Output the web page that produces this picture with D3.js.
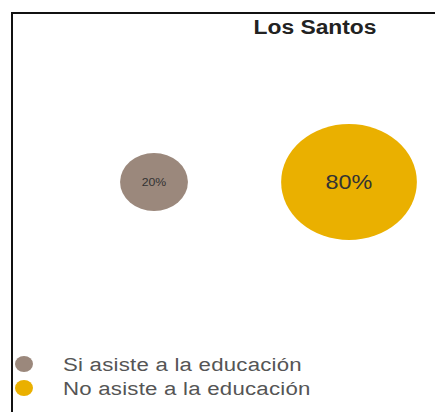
<!DOCTYPE html>
<html>
<head>
  <meta charset="utf-8">
  <title>Los Santos</title>
  <script src="https://d3js.org/d3.v7.min.js"></script>
  <style>
    body { margin: 0; background: #fff; font-family: "Liberation Sans", Arial, sans-serif; }
    .title { font-size: 19.5px; font-weight: bold; fill: #222; text-anchor: middle; }
    .bubble-label { fill: #333; text-anchor: middle; dominant-baseline: central; }
    .legend-text { font-size: 19px; letter-spacing: 0.2px; fill: #555; }
  </style>
</head>
<body>
  <div id="chart"></div>
  <script>
    const categories = ["Si asiste a la educación", "No asiste a la educación"];
    const values = [20, 80];
    const colors = ["#9b887c", "#eab000"];
    const title = "Los Santos";

    const width = 435, height = 412;
    const stretch = 1.17;  // the whole chart is a bit wider than tall

    const svg = d3.select("#chart")
      .append("svg")
        .attr("width", width)
        .attr("height", height);

    // frame (left + top only)
    svg.append("path")
      .attr("d", `M12,${height} L12,13 L${width},13`)
      .attr("fill", "none")
      .attr("stroke", "#111")
      .attr("stroke-width", 2);

    svg.append("text")
      .attr("class", "title")
      .attr("transform", `translate(315,34) scale(${stretch},1)`)
      .text(title);

    // scales
    const x = d3.scalePoint()
      .domain(categories)
      .range([154, 349]);

    const r = d3.scaleSqrt()
      .domain([0, 80])
      .range([0, 58]);

    const color = d3.scaleOrdinal()
      .domain(categories)
      .range(colors);

    const cy = 182;

    const data = categories.map((c, i) => ({cat: c, val: values[i]}));

    svg.selectAll(".bubble")
      .data(data)
      .enter()
      .append("ellipse")
        .attr("class", "bubble")
        .attr("cx", d => x(d.cat))
        .attr("cy", cy)
        .attr("rx", d => r(d.val) * stretch)
        .attr("ry", d => r(d.val))
        .attr("fill", d => color(d.cat));

    const fontSize = d3.scaleLinear().domain([20, 80]).range([10.5, 20]);

    svg.selectAll(".bubble-label")
      .data(data)
      .enter()
      .append("text")
        .attr("class", "bubble-label")
        .attr("transform", d => `translate(${x(d.cat)},${cy}) scale(${stretch},1)`)
        .style("font-size", d => fontSize(d.val) + "px")
        .text(d => d.val + "%");

    // legend
    const ly = d3.scalePoint()
      .domain(categories)
      .range([364, 388]);

    const legend = svg.selectAll(".legend")
      .data(categories)
      .enter()
      .append("g")
        .attr("class", "legend")
        .attr("transform", d => `translate(0,${ly(d)})`);

    legend.append("ellipse")
      .attr("cx", 24)
      .attr("cy", 0)
      .attr("rx", 9)
      .attr("ry", 8)
      .attr("fill", d => color(d));

    legend.append("text")
      .attr("class", "legend-text")
      .attr("transform", `translate(63,7) scale(${stretch},1)`)
      .text(d => d);
  </script>
</body>
</html>
